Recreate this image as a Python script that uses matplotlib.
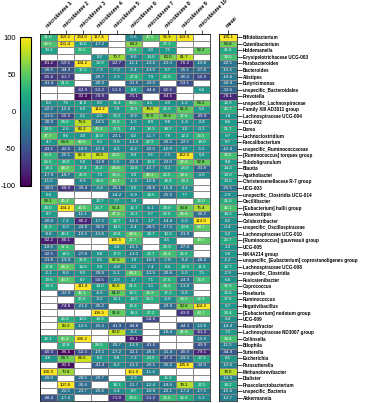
import numpy as np
import matplotlib.pyplot as plt
from matplotlib import colors

plt.rcParams['font.family'] = ['Liberation Sans', 'DejaVu Sans']
plt.rcParams['axes.unicode_minus'] = False

taxa = [
    "Bifidobacterium", "Catenibacterium", "Holdemanella", "Erysipelotrichaceae UCG-003",
    "Parabacteroides", "Bacteroides", "Alistipes", "Butyricimonas",
    "unspecific_Bacteroidales", "Prevotella", "unspecific_Lachnospiraceae",
    "Family XIII AD3011 group", "Lachnospiraceae UCG-004", "UCG-002", "Dorea",
    "Lachnoclostridium", "Faecalibacterium", "unspecific_Ruminococcaceae",
    "[Ruminococcus] torques group", "Subdoligranulum", "Blautia", "Agathobacter",
    "Christensenellaceae R-7 group", "UCG-003", "unspecific_Clostridia UCG-014",
    "Oscillibacter", "[Eubacterium] hallii group", "Anaerostipes", "Colidextribacter",
    "unspecific_Oscillospiraceae", "Lachnospiraceae UCG-010",
    "[Ruminococcus] gauvreauii group", "UCG-005", "NK4A214 group",
    "unspecific_[Eubacterium] coprostanoligenes group", "Lachnospiraceae UCG-008",
    "unspecific_Clostridia", "Fusicatenibacter", "Coprococcus", "Roseburia",
    "Ruminococcus", "Negativibacillus", "[Eubacterium] nodatum group", "UCG-009",
    "Flavonifractor", "Lachnospiraceae ND3007 group", "Collinsella", "Bilophila",
    "Sutterella", "Escherichia", "Parasutterella", "Methanobrevibacter", "Dialister",
    "Phascolarctobacterium", "unspecific_Bacteria", "Akkermansia",
]
samples = ["microbiome %d" % i for i in range(1, 11)]

N = np.nan
# % change per sample (rows follow taxa)
values = [
    [31.0, 159.2, 234.0, 117.4, N, -5.6, 47.6, 92.9, 159.9, N],
    [43.6, 201.4, 10.6, -17.2, N, 63.2, N, 27.1, N, N],
    [13.3, N, 29.5, N, N, 28.6, 3.0, 7.5, N, 52.2],
    [N, N, N, 0.2, 70.7, -8.6, 13.0, 60.0, 81.7, N],
    [-81.2, -59.1, 104.2, 13.9, -62.7, -11.1, -13.6, -19.1, -76.2, -19.8],
    [-36.5, -44.3, 17.2, -7.9, -7.9, -5.4, -13.5, 5.7, -35.1, -27.6],
    [-65.6, -61.7, N, -20.7, -3.9, 27.8, 7.9, 22.9, -40.2, -55.9],
    [-41.4, 21.5, N, -20.9, N, -31.6, -23.9, N, -53.1, N],
    [N, N, -62.9, -53.2, -51.6, 8.4, -44.6, -60.1, N, 6.6],
    [N, N, -92.3, -70.9, N, -75.1, N, -84.5, N, N],
    [0.2, 7.5, 11.6, 0.5, 15.4, 34.5, 4.1, 2.0, -1.2, 54.2],
    [-22.2, -15.6, 6.9, 112.2, 7.9, 28.5, 78.6, 21.6, 51.2, 5.6],
    [-31.5, -55.9, 5.1, -3.5, 15.5, -8.9, 57.0, 54.3, 37.0, -49.9],
    [-30.9, 24.0, 79.6, -18.5, 28.9, -1.5, 8.9, 0.8, -1.4, -3.8],
    [19.9, -2.0, 86.2, 40.1, 27.5, 4.9, 18.9, 18.7, 3.3, -0.1],
    [47.7, 8.6, 3.0, 16.9, -23.1, 0.2, -11.7, 7.8, 12.2, 33.5],
    [4.7, 54.6, 43.0, 6.1, -0.8, -13.4, 22.9, -26.1, -22.5, 18.0],
    [-43.1, -42.6, -18.0, -15.9, -4.5, -6.2, -22.0, -10.0, 2.7, -5.5],
    [30.0, -25.5, 83.3, 83.5, 43.6, 8.4, 0.1, -7.5, 162.0, 5.9],
    [26.5, 23.0, 5.8, -31.8, -5.5, -22.4, 10.3, -22.0, 47.8, 52.8],
    [18.1, 48.2, 17.4, 21.2, 43.8, 13.8, -15.7, -0.1, 23.0, -33.8],
    [-17.9, -18.7, 25.0, 7.3, 39.3, 9.0, 49.2, 30.5, 39.6, -3.0],
    [-11.5, N, -8.9, 28.5, 45.7, -1.3, -10.8, 18.8, 28.2, N],
    [-38.0, -68.9, -39.4, -9.4, -25.1, 5.6, -28.8, -15.4, -4.1, N],
    [6.0, N, N, N, -14.2, -6.9, 18.5, -25.9, 7.7, N],
    [54.1, 45.4, N, 10.7, 7.7, 1.8, N, N, N, 36.0],
    [24.0, 104.2, 43.6, 26.7, 56.4, 15.7, -6.1, 24.9, 53.8, 75.4],
    [8.7, N, -11.1, N, 47.3, 15.3, 5.7, 22.6, 45.8, -30.2],
    [-20.8, -7.2, -80.2, -17.1, 22.7, -15.5, 1.7, -14.8, -5.0, 113.9],
    [21.3, -6.6, -24.8, -30.6, 14.5, -2.4, -28.5, -17.5, 20.8, 48.7],
    [-8.6, 16.1, -19.1, -13.6, 22.8, 48.6, 12.7, 10.3, -21.9, N],
    [-82.2, -80.1, N, N, 186.5, 37.7, N, 4.5, N, 49.5],
    [-18.5, 37.3, N, N, 2.4, -15.1, N, 24.9, -27.4, N],
    [-42.5, 18.5, -27.8, 6.8, 17.0, -13.0, 22.7, 40.4, 25.6, N],
    [-31.6, -19.4, 22.0, 0.1, 67.8, 1.9, -18.3, -7.8, -9.4, -28.4],
    [27.8, 48.2, 14.8, 9.9, -4.8, 2.2, -7.4, 8.4, 19.3, 11.9],
    [-2.1, -8.0, 0.0, -28.8, -5.1, 48.2, -12.5, -20.8, -5.0, 7.1],
    [19.5, 43.3, 8.7, -50.5, -2.9, 1.7, 7.1, 27.6, -24.9, 36.0],
    [19.3, N, 111.8, 14.0, 85.6, 21.5, 1.1, 34.2, -13.9, N],
    [N, -31.9, 42.1, -6.6, 51.0, 16.6, 36.9, 17.3, -0.8, N],
    [N, N, 25.6, -8.2, 10.1, 14.5, 26.5, -0.6, 39.0, 32.9],
    [N, -74.8, -21.2, -30.2, N, 19.4, N, -29.9, 60.6, 124.2],
    [N, N, N, 106.5, 51.6, 18.2, 27.2, N, -69.0, 44.7],
    [N, 26.6, 10.5, 18.9, N, N, -54.6, N, N, N],
    [N, 80.3, -12.5, -25.3, -41.9, -44.8, N, N, -44.1, -12.6],
    [N, N, N, N, 80.0, -8.3, N, -18.4, 41.8, -61.2],
    [16.1, 45.4, 236.2, N, N, -85.1, N, N, N, -15.0],
    [N, 22.8, N, 29.5, -20.7, -13.9, -41.6, N, N, -49.9],
    [-60.3, -96.5, -52.3, -19.1, -17.2, -32.1, -26.5, -31.4, -45.0, -79.1],
    [4.6, 54.7, 84.6, 6.1, 0.8, -7.2, 20.5, -47.3, -23.3, 17.3],
    [N, -92.6, N, -41.3, -8.2, -21.2, -26.1, -25.2, 135.6, -32.0],
    [100.9, 70.8, N, N, N, 151.9, -11.4, N, N, N],
    [-20.0, N, -28.5, -29.7, N, -2.9, N, 15.9, N, N],
    [N, 107.8, -30.6, N, 18.3, -21.7, -12.4, -18.6, 78.1, 22.5],
    [N, -22.5, -23.7, -25.6, -3.4, 8.7, -18.8, -22.1, -17.2, -17.5],
    [-48.4, -17.4, N, N, -71.0, 29.6, -51.2, 35.6, 26.6, -5.1],
]
means = [105.1, 54.8, 21.5, 39.5, -22.5, -15.5, -18.6, -24.9, -33.6, -78.1,
         12.9, 26.7, 1.8, 8.6, 21.7, 9.7, 8.7, -15.9, 38.5, 8.8,
         14.3, 19.0, 10.0, -25.5, -2.8, 26.0, 42.1, 14.2, 0.2, -0.4,
         5.2, 22.7, 1.2, 5.8, -2.2, 12.7, -2.9, 6.6, 32.9, 15.6,
         17.5, 6.7, 24.4, 0.4, -14.4, 7.2, 39.8, -11.5, -44.9, 8.1,
         -12.6, 78.0, -12.9, 18.2, -15.6, -12.7]

cmap = plt.get_cmap("viridis").copy()
cmap.set_bad("white")
norm = colors.Normalize(vmin=-100, vmax=100)


def draw(ax, arr):
    data = np.ma.masked_invalid(arr)
    m = ax.pcolormesh(data, cmap=cmap, norm=norm, edgecolors="#8a8a8a", linewidth=0.4)
    for i in range(arr.shape[0]):
        for j in range(arr.shape[1]):
            v = arr[i, j]
            if np.isnan(v):
                continue
            ax.text(j + 0.5, i + 0.5, "%.1f" % v, ha="center", va="center",
                    fontsize=3.2, color="black" if v > 50 else "white")
    ax.set_ylim(arr.shape[0], 0)
    ax.set_xlim(0, arr.shape[1])
    for s in ax.spines.values():
        s.set_linewidth(0.5)
    ax.xaxis.tick_top()
    ax.set_xticks(np.arange(arr.shape[1]) + 0.5)
    ax.tick_params(axis="x", length=3, width=0.5, pad=0.5)
    return m


fig = plt.figure(figsize=(3.7, 4.03), dpi=100)
ax = fig.add_axes([40 / 370, 2 / 403, 170 / 370, 367 / 403])
axm = fig.add_axes([219 / 370, 2 / 403, 18 / 370, 367 / 403])
cax = fig.add_axes([20 / 370, 217 / 403, 11 / 370, 149 / 403])

mesh = draw(ax, np.array(values, dtype=float))
draw(axm, np.array(means, dtype=float)[:, None])

ax.set_xticklabels(samples, rotation=45, ha="left", va="bottom", rotation_mode="anchor",
                   fontsize=3.8, fontweight="bold")
ax.set_yticks([])

axm.set_xticklabels(["mean"], rotation=45, ha="left", va="bottom", rotation_mode="anchor",
                    fontsize=3.8, fontweight="bold")
axm.yaxis.tick_right()
axm.set_yticks(np.arange(len(taxa)) + 0.5)
axm.set_yticklabels(taxa, fontsize=3.3, fontweight="bold")
axm.tick_params(axis="y", length=3.5, width=0.5, pad=1)

cb = fig.colorbar(mesh, cax=cax, ticks=[-100, -50, 0, 50, 100])
cb.outline.set_linewidth(0.8)
cax.yaxis.set_ticks_position("left")
cax.yaxis.set_label_position("left")
cax.tick_params(axis="y", which="both", left=True, right=False, labelleft=True,
                labelright=False, labelsize=5.5, length=0, pad=3)

fig.savefig("out.png", dpi=100)
